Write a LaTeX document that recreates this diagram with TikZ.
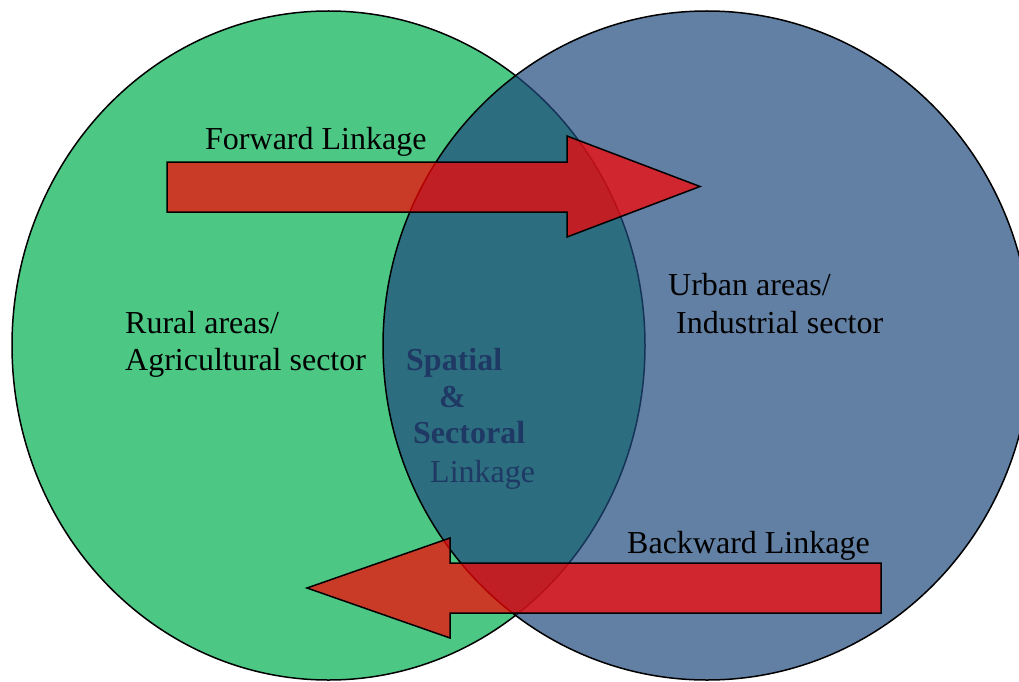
\documentclass[tikz,border=0pt]{standalone}
\usepackage{fontspec}
\setmainfont{Liberation Serif}
\usetikzlibrary{shapes.geometric}
\definecolor{agrgreen}{HTML}{00B050}
\definecolor{indblue}{HTML}{1F497D}
\definecolor{linkred}{HTML}{FF0000}
\definecolor{navytext}{HTML}{1F3864}
\begin{document}
\begin{tikzpicture}[x=1pt,y=-1pt,
  sector/.style={draw=black, line width=1.5pt, fill opacity=0.7, ellipse, inner sep=0pt},
  linkarrow/.style={draw=black, line width=1.5pt, fill=linkred, fill opacity=0.7, line join=miter},
  lbl/.style={anchor=base west, inner sep=0pt, font=\fontsize{32}{38}\selectfont, text=black},
  core/.style={lbl, text=navytext}]
\useasboundingbox (0,0) rectangle (1019,682);
\clip (0,0) rectangle (1019,682);
\node[sector, fill=agrgreen, minimum width=633pt, minimum height=669pt] (rural) at (328.5,345.5) {};
\node[sector, fill=indblue, minimum width=648pt, minimum height=669pt] (urban) at (707,345.5) {};
% forward linkage arrow
\draw[linkarrow] (167,162) -- (567,162) -- (567,136) -- (700,186.5) -- (567,237) -- (567,212) -- (167,212) -- cycle;
% backward linkage arrow
\draw[linkarrow] (881,563) -- (450,563) -- (450,538) -- (307,588) -- (450,638) -- (450,613) -- (881,613) -- cycle;
\node[lbl] (fwd) at (205,149) {Forward Linkage};
\node[lbl] (bwd) at (627,553) {Backward Linkage};
\node[lbl] (rur1) at (125,333) {Rural areas/};
\node[lbl] (rur2) at (125,370) {Agricultural sector};
\node[lbl] (urb1) at (668,295) {Urban areas/};
\node[lbl] (urb2) at (676,333) {Industrial sector};
\node[core, font=\fontsize{32}{38}\selectfont\bfseries] (sp) at (406,370) {Spatial};
\node[core, font=\fontsize{32}{38}\selectfont\bfseries] (amp) at (439,407) {\&};
\node[core, font=\fontsize{32}{38}\selectfont\bfseries] (sec) at (413,443) {Sectoral};
\node[core] (lk) at (430,482) {Linkage};
\end{tikzpicture}
\end{document}
